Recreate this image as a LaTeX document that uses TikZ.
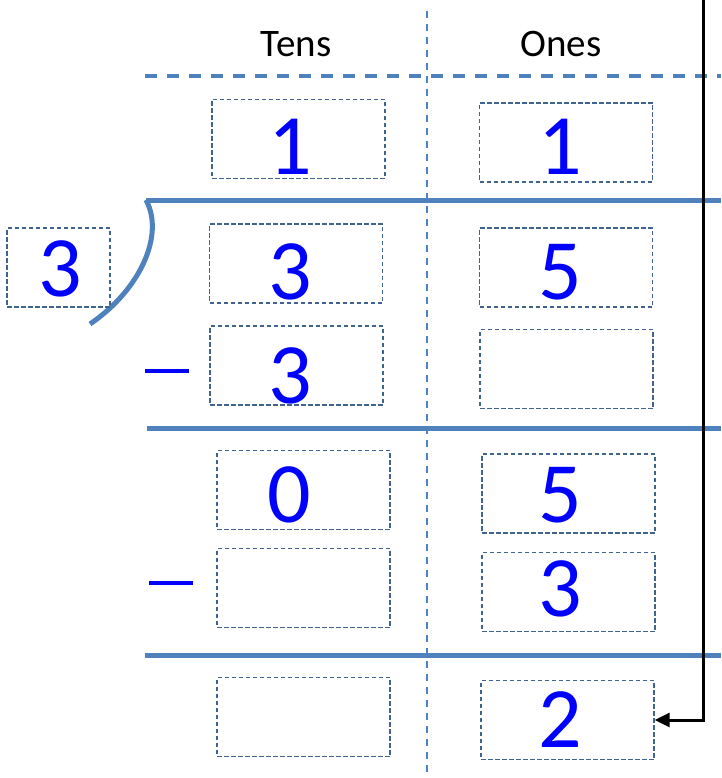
\documentclass[tikz,border=0pt]{standalone}
\usepackage{fontspec}
\setmainfont{Carlito}
\usetikzlibrary{arrows.meta}
\definecolor{rule}{HTML}{4F81BD}
\definecolor{boxline}{HTML}{41638F}
\definecolor{digitblue}{RGB}{0,0,255}
\tikzset{
  slot/.style={draw=boxline, line width=1.3pt, dash pattern=on 4.5pt off 2.5pt,
    minimum width=173pt, minimum height=79pt, inner sep=0pt},
  divslot/.style={slot, minimum width=103pt},
  digit/.style={anchor=base, text=digitblue, inner sep=0pt,
    font=\fontsize{86}{86}\selectfont},
  header/.style={anchor=base, inner sep=0pt, font=\fontsize{39}{39}\selectfont},
  solidrule/.style={draw=rule, line width=5pt},
  minusbar/.style={draw=digitblue, line width=4.5pt},
  colrule/.style={draw=rule, line width=2pt, dash pattern=on 7pt off 6pt},
  headrule/.style={draw=rule, line width=3.5pt, dash pattern=on 12pt off 10pt},
  carry/.style={draw=black, line width=3pt, -{Triangle[length=15pt,width=14pt]}}
}
\begin{document}
\begin{tikzpicture}[x=1pt, y=-1pt]
\useasboundingbox (0,0) rectangle (721,778);

% column headings and guide lines
\node[header] (tens) at (296,57) {Tens};
\node[header] (ones) at (561,57) {Ones};
\draw[colrule] (427,11) -- (427,778);
\draw[headrule] (145,76) -- (721,76);

% answer row
\node[slot] (r1t) at (298.5,139) {};
\node[slot] (r1o) at (566,142.5) {};
\node[digit] (d1t) at (290,175) {1};
\node[digit] (d1o) at (560,175) {1};

% division bracket and dividend rule
\draw[solidrule] (146,200) -- (721,200);
\draw[solidrule] (146,200) .. controls (165,235) and (140,290) .. (90,324);

% divisor and dividend
\node[divslot] (dv) at (58.5,267.5) {};
\node[digit] (ddv) at (60,296) {3};
\node[slot] (r2t) at (296,263.5) {};
\node[slot] (r2o) at (566,267.5) {};
\node[digit] (d2t) at (290,299) {3};
\node[digit] (d2o) at (560,299) {5};

% first subtraction
\draw[minusbar] (145,371) -- (189,371);
\node[slot] (r3t) at (296.5,365.5) {};
\node[slot] (r3o) at (566.5,369) {};
\node[digit] (d3t) at (290,403) {3};
\draw[solidrule] (147,428) -- (721,428);

% first remainder
\node[slot] (r4t) at (303.5,490) {};
\node[slot] (r4o) at (568.5,493.5) {};
\node[digit] (d4t) at (289,522) {0};
\node[digit] (d4o) at (560,522) {5};

% second subtraction
\draw[minusbar] (149,583) -- (193,583);
\node[slot] (r5t) at (303.5,588) {};
\node[slot] (r5o) at (568.5,592) {};
\node[digit] (d5o) at (560,616) {3};
\draw[solidrule] (145,655) -- (721,655);

% final remainder
\node[slot] (r6t) at (303.5,717) {};
\node[slot] (r6o) at (567.5,720) {};
\node[digit] (d6o) at (560,747) {2};

% carried-down arrow
\coordinate (carrytop) at (703,0);
\draw[carry] (carrytop) |- (r6o.east);
\end{tikzpicture}
\end{document}
